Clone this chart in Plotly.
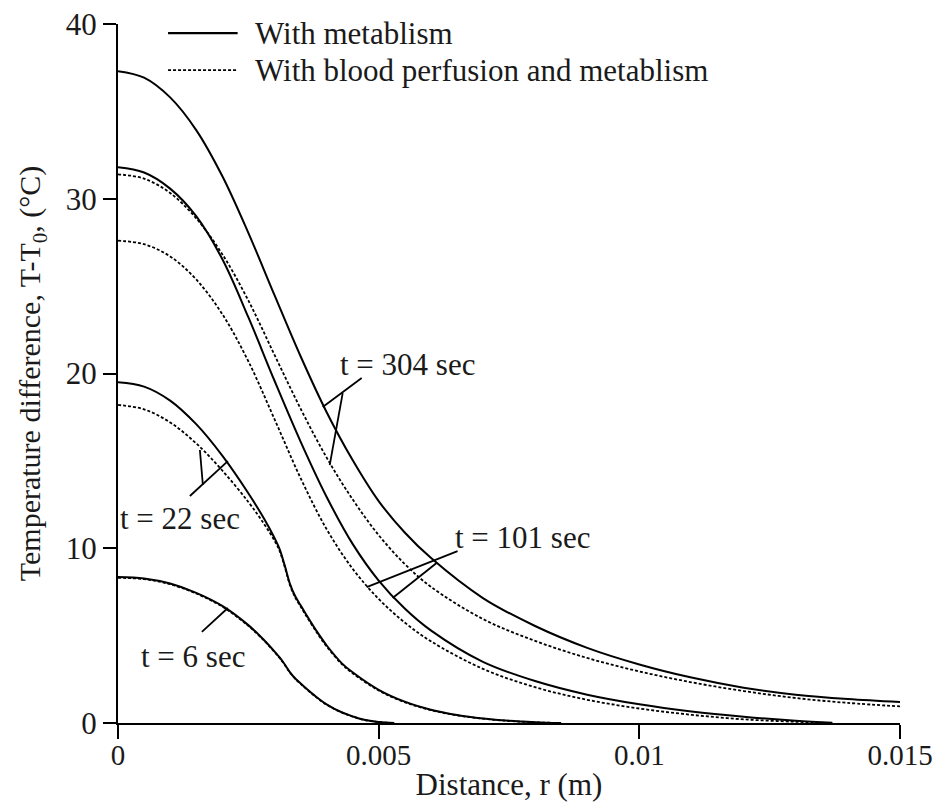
import plotly.graph_objects as go

# ---------------- data ----------------
R_304 = [0, 0.0005, 0.001, 0.0015, 0.002, 0.0025, 0.003, 0.0035, 0.004, 0.0045,
         0.005, 0.0055, 0.006, 0.007, 0.008, 0.009, 0.010, 0.011, 0.012, 0.013, 0.014, 0.015]
S304 = [37.3, 36.93, 35.8, 33.93, 31.3, 28.05, 24.5, 21.0, 17.8, 15.05,
        12.7, 10.9, 9.45, 7.15, 5.55, 4.3, 3.35, 2.6, 2.02, 1.62, 1.37, 1.2]
D304 = [31.4, 31.15, 30.33, 28.88, 26.83, 24.18, 21.08, 18.0, 15.2, 12.8,
        10.75, 9.1, 7.8, 5.95, 4.7, 3.72, 2.95, 2.33, 1.83, 1.43, 1.15, 0.95]

R_101 = [0, 0.0005, 0.001, 0.0015, 0.002, 0.0025, 0.003, 0.0035, 0.004, 0.0045,
         0.005, 0.0055, 0.006, 0.007, 0.008, 0.009, 0.010, 0.011, 0.012, 0.013, 0.0137]
S101 = [31.8, 31.5, 30.58, 29.0, 26.55, 23.22, 19.6, 16.12, 12.95, 10.25,
        8.15, 6.55, 5.3, 3.5, 2.4, 1.62, 1.07, 0.66, 0.36, 0.13, 0.02]
D101 = [27.6, 27.4, 26.7, 25.38, 23.4, 20.7, 17.4, 14.03, 11.1, 8.83,
        7.1, 5.75, 4.68, 3.1, 2.05, 1.33, 0.83, 0.47, 0.21, 0.07, 0.0]

R_22 = [0, 0.0005, 0.001, 0.0015, 0.002, 0.0025, 0.0028, 0.003, 0.0031, 0.0032, 0.0033,
        0.0034, 0.0035, 0.0036, 0.0038, 0.004, 0.0043, 0.0045, 0.005, 0.0055, 0.006,
        0.0065, 0.007, 0.0075, 0.008, 0.0085]
S22 = [19.5, 19.25, 18.45, 17.1, 15.3, 13.15, 11.7, 10.6, 9.95, 9.0, 7.95,
       7.25, 6.75, 6.25, 5.3, 4.45, 3.4, 2.9, 1.9, 1.22, 0.76,
       0.46, 0.26, 0.13, 0.05, 0.0]
D22 = [18.2, 17.95, 17.2, 16.0, 14.45, 12.65, 11.4, 10.45, 9.85, 8.92, 7.88,
       7.18, 6.68, 6.18, 5.24, 4.39, 3.35, 2.85, 1.86, 1.19, 0.74,
       0.44, 0.25, 0.12, 0.04, 0.0]

R_6 = [0, 0.0005, 0.001, 0.0015, 0.002, 0.0025, 0.0028, 0.003, 0.0031, 0.0032, 0.0033,
       0.0034, 0.0035, 0.0036, 0.0038, 0.004, 0.0043, 0.0045, 0.0047, 0.005, 0.0053]
S6 = [8.35, 8.27, 7.98, 7.45, 6.7, 5.6, 4.75, 4.1, 3.75, 3.35, 2.9,
      2.55, 2.27, 2.0, 1.5, 1.07, 0.6, 0.38, 0.2, 0.06, 0.0]
D6 = [8.31, 8.23, 7.94, 7.41, 6.66, 5.56, 4.72, 4.07, 3.72, 3.32, 2.88,
      2.53, 2.25, 1.98, 1.48, 1.05, 0.59, 0.37, 0.19, 0.05, 0.0]

X_TICKS = [0, 0.005, 0.01, 0.015]
X_TICKTEXT = ["0", "0.005", "0.01", "0.015"]
Y_TICKS = [0, 10, 20, 30, 40]

LEGEND_LABELS = ["With metablism", "With blood perfusion and metablism"]

# time labels: (text, x, y)
TIME_LABELS = [("t = 304 sec", 0.00556, 20.5),
               ("t = 101 sec", 0.00776, 10.64),
               ("t = 22 sec", 0.00119, 11.73),
               ("t = 6 sec", 0.00144, 3.78)]
# pointer segments (x0, y0, x1, y1)
POINTERS = [(0.004674, 19.74, 0.003927, 18.08),
            (0.004310, 18.88, 0.004061, 14.76),
            (0.006513, 9.84, 0.004770, 7.78),
            (0.006111, 9.16, 0.005268, 7.15),
            (0.001379, 12.99, 0.002107, 14.99),
            (0.001571, 15.62, 0.001628, 13.62),
            (0.001609, 5.21, 0.002107, 6.58)]

# ---------------- figure ----------------
FONT = "Liberation Serif, Times New Roman, serif"
TXT = "#1a1a1a"
SOLID = dict(color="black", width=2, shape="spline", smoothing=1.0)
DASH = dict(color="black", width=1.8, dash="3px,2px", shape="spline", smoothing=1.0)

fig = go.Figure()
for xs, ys, st in [(R_304, S304, SOLID), (R_304, D304, DASH),
                   (R_101, S101, SOLID), (R_101, D101, DASH),
                   (R_22, S22, SOLID), (R_22, D22, DASH),
                   (R_6, S6, SOLID), (R_6, D6, DASH)]:
    fig.add_trace(go.Scatter(x=xs, y=ys, mode="lines", line=st, showlegend=False,
                             hoverinfo="skip"))

for (x0, y0, x1, y1) in POINTERS:
    fig.add_shape(type="line", x0=x0, y0=y0, x1=x1, y1=y1, xref="x", yref="y",
                  line=dict(color="black", width=1.8))

for text, x, y in TIME_LABELS:
    fig.add_annotation(x=x, y=y, xref="x", yref="y", text=text, showarrow=False,
                       font=dict(family=FONT, size=31, color=TXT))

# legend (manual, top-left)
leg_y = [0.987, 0.934]
for i, (lab, yy) in enumerate(zip(LEGEND_LABELS, leg_y)):
    fig.add_shape(type="line", xref="paper", yref="paper", x0=0.064, x1=0.153, y0=yy, y1=yy,
                  line=dict(color="black", width=2.4 if i == 0 else 1.8,
                            dash="solid" if i == 0 else "3px,2px"))
    fig.add_annotation(xref="paper", yref="paper", x=0.172, y=yy, text=lab, showarrow=False,
                       xanchor="left", yanchor="middle",
                       font=dict(family=FONT, size=31, color=TXT))

fig.update_layout(
    width=934, height=809,
    margin=dict(l=118, r=34, t=24, b=86),
    paper_bgcolor="white", plot_bgcolor="white",
    font=dict(family=FONT, size=31, color=TXT),
    showlegend=False,
)
fig.update_xaxes(range=[0, 0.015], tickvals=X_TICKS, ticktext=X_TICKTEXT, automargin=False,
                 ticklabeloverflow="allow", ticklabelstandoff=-9,
                 showgrid=False, zeroline=False, showline=True, linecolor="black", linewidth=2,
                 ticks="outside", ticklen=14, tickwidth=2, tickcolor="black",
                 title=dict(text="Distance, r (m)", standoff=4,
                            font=dict(family=FONT, size=31, color=TXT)),
                 tickfont=dict(family=FONT, size=29, color=TXT))
fig.update_yaxes(range=[0, 40], tickvals=Y_TICKS, automargin=False,
                 ticklabeloverflow="allow",
                 showgrid=False, zeroline=False, showline=True, linecolor="black", linewidth=2,
                 ticks="outside", ticklen=13, tickwidth=2, tickcolor="black",
                 title=dict(text="Temperature difference, T-T<sub>0</sub>, (°C)", standoff=16,
                            font=dict(family=FONT, size=30, color=TXT)),
                 tickfont=dict(family=FONT, size=31, color=TXT))

fig.write_html("out.html")
